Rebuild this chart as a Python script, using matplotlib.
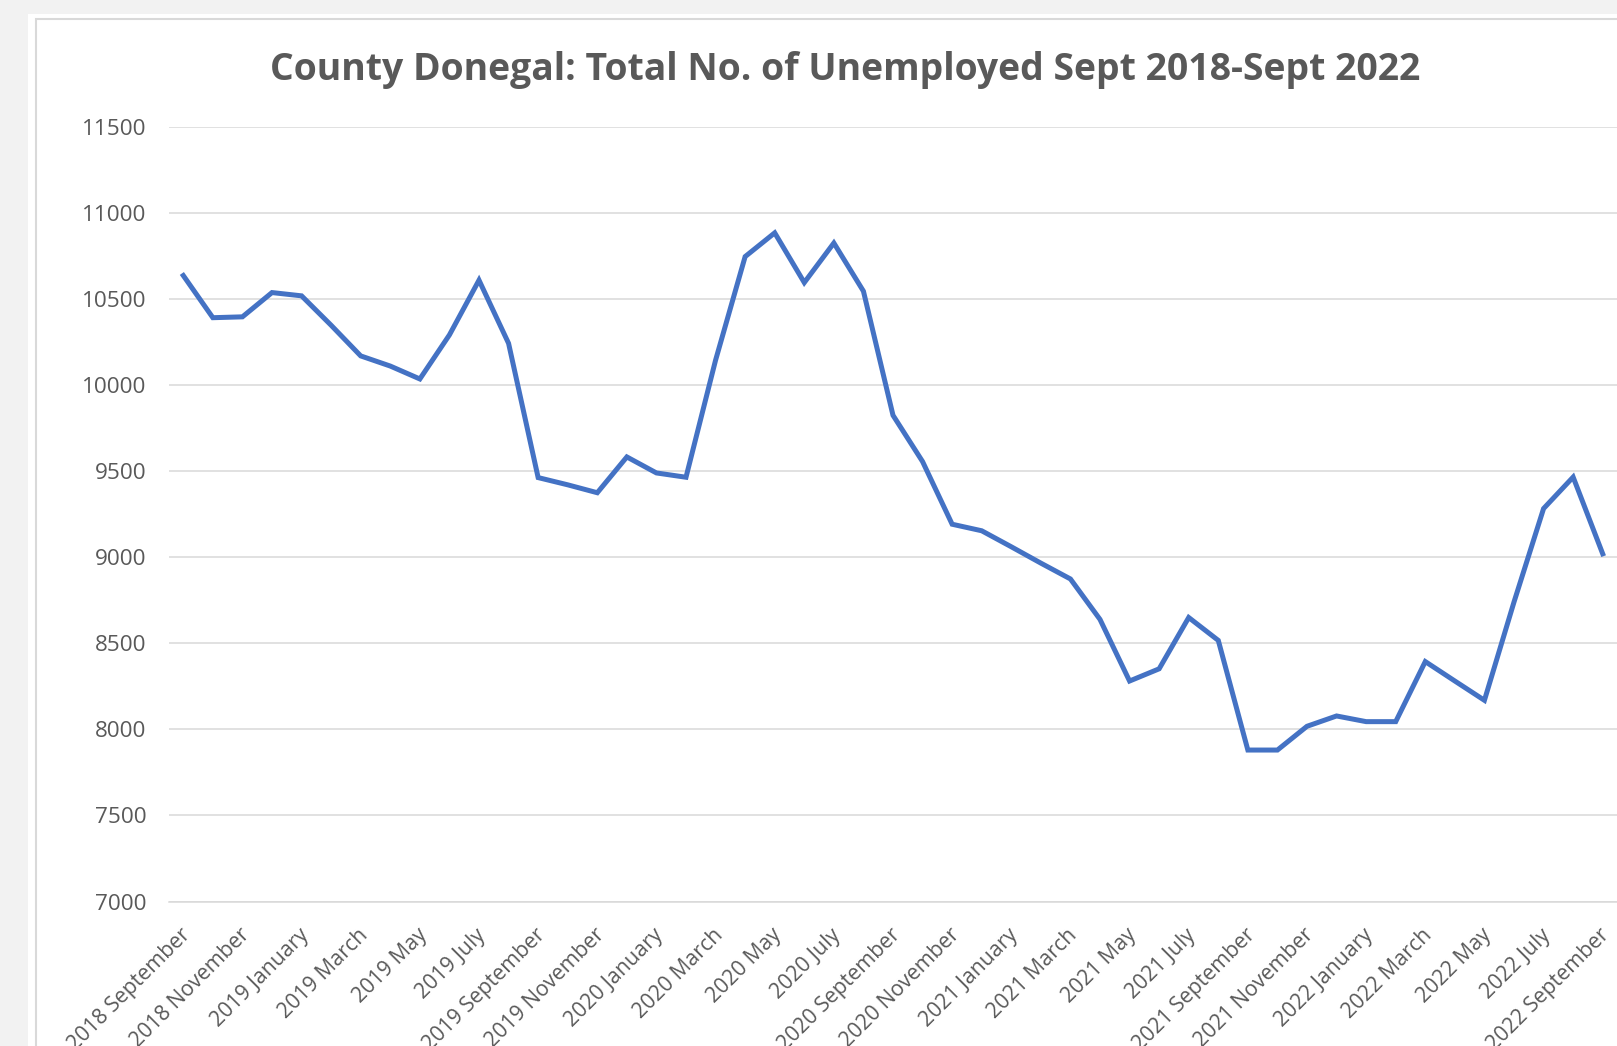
import matplotlib
matplotlib.use("Agg")
import matplotlib.pyplot as plt
from matplotlib.patches import Rectangle
from matplotlib.transforms import ScaledTranslation

# Monthly unemployment totals, County Donegal, Sept 2018 - Sept 2022
months = [
    "2018 September", "2018 October", "2018 November", "2018 December",
    "2019 January", "2019 February", "2019 March", "2019 April", "2019 May",
    "2019 June", "2019 July", "2019 August", "2019 September", "2019 October",
    "2019 November", "2019 December",
    "2020 January", "2020 February", "2020 March", "2020 April", "2020 May",
    "2020 June", "2020 July", "2020 August", "2020 September", "2020 October",
    "2020 November", "2020 December",
    "2021 January", "2021 February", "2021 March", "2021 April", "2021 May",
    "2021 June", "2021 July", "2021 August", "2021 September", "2021 October",
    "2021 November", "2021 December",
    "2022 January", "2022 February", "2022 March", "2022 April", "2022 May",
    "2022 June", "2022 July", "2022 August", "2022 September",
]
unemployed = [
    10637, 10392, 10397, 10538, 10519, 10348, 10170, 10111, 10036, 10292,
    10610, 10243, 9463, 9421, 9375, 9583, 9490, 9465, 10145, 10747,
    10885, 10596, 10826, 10546, 9825, 9556, 9192, 9154, 9061, 8966,
    8874, 8639, 8281, 8352, 8650, 8517, 7880, 7880, 8018, 8078,
    8045, 8045, 8394, 8281, 8169, 8740, 9283, 9466, 9020,
]
y_ticks = [7000, 7500, 8000, 8500, 9000, 9500, 10000, 10500, 11000, 11500]

W, H = 1617, 1046
fig = plt.figure(figsize=(W / 100, H / 100), dpi=100, facecolor="#f2f2f2")

# white chart area with its thin grey frame
fig.patches.append(Rectangle((28 / W, 0), 1, (H - 14) / H, transform=fig.transFigure,
                             facecolor="white", edgecolor="none", zorder=-2))
fig.patches.append(Rectangle((36 / W, -0.1), 1, (H - 19) / H + 0.1, transform=fig.transFigure,
                             facecolor="none", edgecolor="#d9d9d9", linewidth=1.5, zorder=-1))

left, right = 168.5 / W, 1617.5 / W
bottom, top = (H - 901.5) / H, (H - 127) / H
ax = fig.add_axes([left, bottom, right - left, top - bottom])
ax.set_zorder(2)
ax.set_facecolor("none")

x = list(range(len(months)))
ax.plot(x, unemployed, color="#4472c4", linewidth=3.6, solid_joinstyle="miter", zorder=3)

ax.set_xlim(-0.5, len(months) - 0.5)
ax.set_ylim(7000, 11500)
ax.set_yticks(y_ticks)
ax.set_yticklabels([str(v) for v in y_ticks])
ax.grid(axis="y", color="#d9d9d9", linewidth=1.1)
ax.set_axisbelow(True)

ax.set_xticks(x[::2])
ax.set_xticklabels(months[::2], rotation=45, ha="right", va="center",
                   rotation_mode="anchor")

for s in ["left", "right", "top"]:
    ax.spines[s].set_visible(False)
ax.spines["bottom"].set_color("#d9d9d9")
ax.spines["bottom"].set_linewidth(1.1)

ax.tick_params(axis="both", length=0, colors="#595959")
ax.tick_params(axis="y", pad=16, labelsize=16.2)
ax.tick_params(axis="x", pad=22, labelsize=15.3)
shift = ScaledTranslation(4 / 100, 0, fig.dpi_scale_trans)
for lbl in ax.get_xticklabels():
    lbl.set_fontfamily("Open Sans")
    lbl.set_transform(lbl.get_transform() + shift)
for lbl in ax.get_yticklabels():
    lbl.set_fontfamily("Open Sans")

fig.text(845 / W, (H - 70) / H, "County Donegal: Total No. of Unemployed Sept 2018-Sept 2022",
         ha="center", va="center", fontsize=26.9, fontweight="bold",
         color="#595959", family="Open Sans")

fig.savefig("out.png", dpi=100, facecolor=fig.get_facecolor())
